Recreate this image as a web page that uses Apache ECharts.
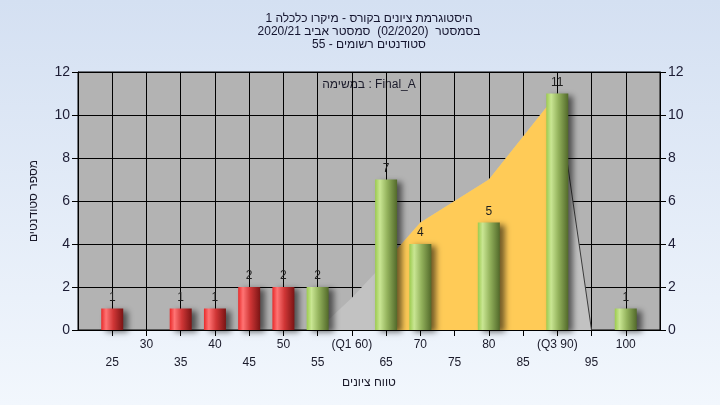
<!DOCTYPE html>
<html>
<head>
<meta charset="utf-8">
<script src="https://cdn.jsdelivr.net/npm/echarts@6.0.0/dist/echarts.min.js"></script>
<style>
html,body{margin:0;padding:0;background:#fff;}
#chart{width:720px;height:405px;}
</style>
</head>
<body>
<div id="chart"></div>
<script>
// ---- data ----
const titleLines = [
  'היסטוגרמת ציונים בקורס - מיקרו כלכלה 1',
  'בסמסטר  (02/2020)  סמסטר אביב 2020/21',
  'סטודנטים רשומים - 55'
];
const legendText = 'במשימה : Final_A';
const xAxisName = 'טווח ציונים';
const yAxisName = 'מספר סטודנטים';

const binCenters = [25, 35, 40, 45, 50, 55, 65, 70, 80, 90, 100];
const binCounts  = [1, 1, 1, 2, 2, 2, 7, 4, 5, 11, 1];
const passMark = 55;

const curveX = [55, 60, 65, 70, 75, 80, 85, 90, 95];
const curveY = [0, 1.5, 3.2, 5, 6, 7, 9, 11, 0];
const highlightFrom = 65;
const highlightTo = 90;

const tickValues = [25, 30, 35, 40, 45, 50, 55, 60, 65, 70, 75, 80, 85, 90, 95, 100];
const tickLabels = ['25', '30', '35', '40', '45', '50', '55', '(Q1 60)', '65', '70', '75', '80', '85', '(Q3 90)', '95', '100'];

// ---- chart ----
const FONT = '"Liberation Sans", "DejaVu Sans", Arial, sans-serif';
const chart = echarts.init(document.getElementById('chart'), null, {renderer: 'canvas'});
const G = echarts.graphic.LinearGradient;

const redGrad = new G(0, 0, 1, 0, [
  {offset: 0, color: '#e82a2a'},
  {offset: 0.22, color: '#ff7474'},
  {offset: 0.55, color: '#d03636'},
  {offset: 1, color: '#7a1414'}
]);
const greenGrad = new G(0, 0, 1, 0, [
  {offset: 0, color: '#9ccb4e'},
  {offset: 0.22, color: '#c9e693'},
  {offset: 0.55, color: '#93b25c'},
  {offset: 1, color: '#52692a'}
]);

const barData = binCenters.map((x, i) => ({
  value: [x, binCounts[i]],
  itemStyle: {color: x < passMark ? redGrad : greenGrad}
}));
const curveData = curveX.map((x, i) => [x, curveY[i]]);
const highlightData = curveData.filter(p => p[0] >= highlightFrom && p[0] <= highlightTo);
const tailData = curveData.filter(p => p[0] >= highlightTo);

const yAxisCommon = {
  type: 'value', min: 0, max: 12, interval: 2,
  axisLine: {show: true, lineStyle: {color: '#000', width: 1}},
  axisTick: {show: true, length: 6, lineStyle: {color: '#000'}},
  axisLabel: {fontSize: 14, color: '#1c1c34', fontFamily: FONT, margin: 8},
  splitLine: {show: true, lineStyle: {color: '#000', width: 1}}
};

const option = {
  animation: false,
  backgroundColor: new G(0, 0, 0, 1, [
    {offset: 0, color: '#d4e0f2'},
    {offset: 1, color: '#f2f7fd'}
  ]),
  textStyle: {fontFamily: FONT},
  grid: {left: 78, right: 60, top: 72, bottom: 75, show: true, backgroundColor: '#b3b3b3', borderColor: '#000', borderWidth: 1},
  graphic: [
    {
      type: 'text', x: 369, y: 12,
      style: {
        text: titleLines.join('\n'), textAlign: 'center',
        font: '12px ' + FONT, fill: '#14142e', lineHeight: 13
      }
    },
    {
      type: 'text', x: 369, y: 79,
      style: {text: legendText, textAlign: 'center', font: '12px ' + FONT, fill: '#1a1a2a'}
    }
  ],
  xAxis: {
    type: 'value', min: 20, max: 105, interval: 5,
    name: xAxisName, nameLocation: 'middle', nameGap: 45,
    nameTextStyle: {fontSize: 12, color: '#1a1a2a', fontFamily: FONT},
    axisLine: {show: true, onZero: false, lineStyle: {color: '#000', width: 1}},
    axisTick: {show: true, length: 6, lineStyle: {color: '#000'}},
    axisLabel: {
      fontSize: 12, color: '#1a1a2a', lineHeight: 18, margin: 6, fontFamily: FONT,
      showMinLabel: false, showMaxLabel: false,
      formatter: function (v) {
        const i = tickValues.indexOf(v);
        if (i < 0) return '';
        return (v % 10 === 0) ? tickLabels[i] : '\n' + tickLabels[i];
      }
    },
    splitLine: {show: true, lineStyle: {color: '#000', width: 1}}
  },
  yAxis: [
    Object.assign({}, yAxisCommon, {
      position: 'left', name: yAxisName, nameLocation: 'middle', nameGap: 38,
      nameTextStyle: {fontSize: 12, color: '#1a1a2a', fontFamily: FONT}
    }),
    Object.assign({}, yAxisCommon, {position: 'right', splitLine: {show: false}})
  ],
  series: [
    {
      type: 'line', data: curveData, symbol: 'none', z: 1,
      lineStyle: {width: 0, color: '#c2c2c2'},
      areaStyle: {color: '#c2c2c2', opacity: 1}
    },
    {
      type: 'line', data: highlightData, symbol: 'none', z: 2,
      lineStyle: {width: 0, color: '#ffcb57'},
      areaStyle: {color: '#ffcb57', opacity: 1}
    },
    {
      type: 'line', data: tailData, symbol: 'none', z: 3,
      lineStyle: {width: 1, color: '#3a3a3a'}
    },
    {
      type: 'bar', data: barData, barWidth: 22, z: 5,
      itemStyle: {
        shadowColor: 'rgba(0,0,0,0.55)', shadowBlur: 6, shadowOffsetX: 5, shadowOffsetY: 2
      },
      label: {
        show: true, position: 'top', distance: 5, fontSize: 12, color: '#1e1e1e', fontFamily: FONT,
        formatter: p => String(p.value[1])
      }
    }
  ]
};
chart.setOption(option);
</script>
</body>
</html>
